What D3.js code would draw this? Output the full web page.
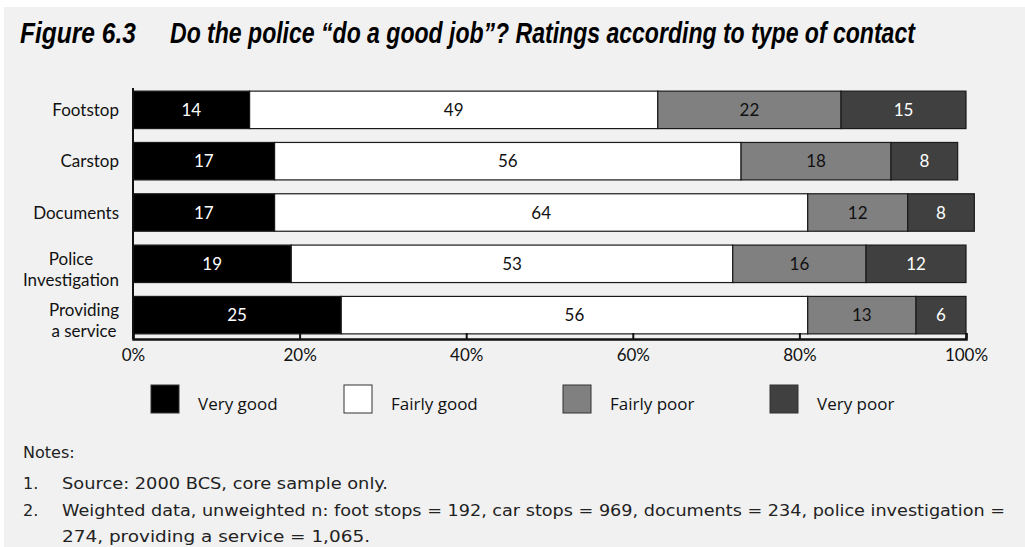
<!DOCTYPE html>
<html>
<head>
<meta charset="utf-8">
<script src="https://cdn.jsdelivr.net/npm/d3@7"></script>
<style>
  html, body { margin: 0; padding: 0; background: #ffffff; }
  svg { display: block; }
</style>
</head>
<body>
<svg id="chart" width="1025" height="547"></svg>
<script>
// Ratings data (percent of respondents), one array per rating
const categories = ["Footstop", "Carstop", "Documents", "Police\nInvestigation", "Providing\na service"];
const seriesNames = ["Very good", "Fairly good", "Fairly poor", "Very poor"];
const veryGood   = [14, 17, 17, 19, 25];
const fairlyGood = [49, 56, 64, 53, 56];
const fairlyPoor = [22, 18, 12, 16, 13];
const veryPoor   = [15, 8, 8, 12, 6];
const tickValues = [0, 20, 40, 60, 80, 100];
const tickLabels = ["0%", "20%", "40%", "60%", "80%", "100%"];
const titleNumber = "Figure 6.3";
const titleText = "Do the police \u201cdo a good job\u201d? Ratings according to type of contact";
const notes = [
  "Notes:",
  "1.|Source: 2000 BCS, core sample only.",
  "2.|Weighted data, unweighted n: foot stops = 192, car stops = 969, documents = 234, police investigation =",
  "|274, providing a service = 1,065."
];

const fills = ["#000000", "#ffffff", "#808080", "#404040"];
const textFills = ["#ffffff", "#111111", "#111111", "#ffffff"];
const series = [veryGood, fairlyGood, fairlyPoor, veryPoor];

const svg = d3.select("#chart");
const labelFont = "Lato, 'Open Sans', sans-serif";
const legendFont = "'Open Sans', 'Noto Sans', sans-serif";
const noteFont = "'DejaVu Sans', 'Open Sans', sans-serif";

// panel background
svg.append("rect").attr("x", 0).attr("y", 0).attr("width", 1025).attr("height", 547).attr("fill", "#ffffff");
svg.append("rect").attr("x", 4).attr("y", 7).attr("width", 1021).attr("height", 540).attr("fill", "#f1f1f1");

// title: condensed bold oblique, squeezed horizontally to its set width
function condensedTitle(str, x0, width) {
  const t = svg.append("text")
    .attr("font-family", "'Liberation Sans', Arial, sans-serif")
    .attr("font-weight", "bold").attr("font-style", "italic").attr("font-size", 29)
    .attr("fill", "#000").text(str);
  const w = t.node().getComputedTextLength();
  t.attr("transform", `translate(${x0},43) scale(${width / w},1)`);
}
condensedTitle(titleNumber, 20, 116);
condensedTitle(titleText, 170, 745);

// scales
const x = d3.scaleLinear().domain([0, 100]).range([133, 966]);
const y = d3.scaleBand().domain(categories).range([86, 339]).paddingInner(0.27).paddingOuter(0.1);

// stacked segments
const rows = categories.map((c, i) => {
  let acc = 0;
  return series.map((s, k) => {
    const seg = { cat: c, k, v: s[i], x0: acc, x1: acc + s[i] };
    acc += s[i];
    return seg;
  });
}).flat();

const bars = svg.append("g");
bars.selectAll("rect").data(rows).join("rect")
  .attr("x", d => x(d.x0))
  .attr("y", d => y(d.cat))
  .attr("width", d => x(d.x1) - x(d.x0))
  .attr("height", y.bandwidth())
  .attr("fill", d => fills[d.k])
  .attr("stroke", "#1a1a1a")
  .attr("stroke-width", 1.2);

bars.selectAll("text").data(rows).join("text")
  .attr("x", d => (x(d.x0) + x(d.x1)) / 2)
  .attr("y", d => y(d.cat) + y.bandwidth() / 2 + 6)
  .attr("text-anchor", "middle")
  .attr("font-family", labelFont).attr("font-size", 17)
  .attr("fill", d => textFills[d.k])
  .text(d => d.v);

// category labels
const catG = svg.append("g").attr("font-family", labelFont).attr("font-size", 17).attr("fill", "#111");
categories.forEach(c => {
  const lines = c.split("\n");
  const cy = y(c) + y.bandwidth() / 2;
  if (lines.length === 1) {
    catG.append("text").attr("x", 119).attr("y", cy + 6).attr("text-anchor", "end").text(lines[0]);
  } else {
    const t = catG.append("text").attr("text-anchor", "middle");
    lines.forEach((ln, j) => t.append("tspan").attr("y", cy + 1 + j * 21).text(ln));
    let maxW = 0;
    t.selectAll("tspan").each(function () { maxW = Math.max(maxW, this.getComputedTextLength()); });
    t.selectAll("tspan").attr("x", 119 - maxW / 2);
  }
});

// x axis with upward ticks
const axis = d3.axisBottom(x).tickValues(tickValues)
  .tickFormat((d, i) => tickLabels[i]).tickSizeInner(-6).tickSizeOuter(-6).tickPadding(10);
const ax = svg.append("g").attr("transform", "translate(0,339)").call(axis);
ax.select(".domain").attr("stroke", "#111").attr("stroke-width", 2.5);
ax.selectAll(".tick line").attr("stroke", "#111").attr("stroke-width", 2);
ax.selectAll(".tick text").attr("font-family", labelFont).attr("font-size", 17).attr("fill", "#111");

// left axis line
svg.append("line").attr("x1", 133).attr("x2", 133).attr("y1", 88).attr("y2", 339)
  .attr("stroke", "#111").attr("stroke-width", 2);

// legend
const legendX = [151, 344, 563, 770];
const lg = svg.append("g");
seriesNames.forEach((n, k) => {
  lg.append("rect").attr("x", legendX[k]).attr("y", 385).attr("width", 28).attr("height", 28)
    .attr("fill", fills[k]).attr("stroke", "#333").attr("stroke-width", 1);
  lg.append("text").attr("x", legendX[k] + 47).attr("y", 410)
    .attr("font-family", legendFont).attr("font-size", 17).attr("fill", "#111").text(n);
});

// notes
const noteY = [458, 489, 516, 542];
const noteWidths = [null, 326, 943, 308];
const ng = svg.append("g").attr("font-family", noteFont).attr("font-size", 16).attr("fill", "#222");
notes.forEach((ln, i) => {
  const parts = ln.split("|");
  if (parts.length === 1) {
    ng.append("text").attr("x", 23).attr("y", noteY[i]).text(parts[0]);
  } else {
    if (parts[0]) ng.append("text").attr("x", 23).attr("y", noteY[i]).text(parts[0]);
    const t = ng.append("text").attr("x", 62).attr("y", noteY[i]).text(parts[1]);
    if (noteWidths[i]) t.attr("textLength", noteWidths[i]).attr("lengthAdjust", "spacingAndGlyphs");
  }
});
</script>
</body>
</html>
